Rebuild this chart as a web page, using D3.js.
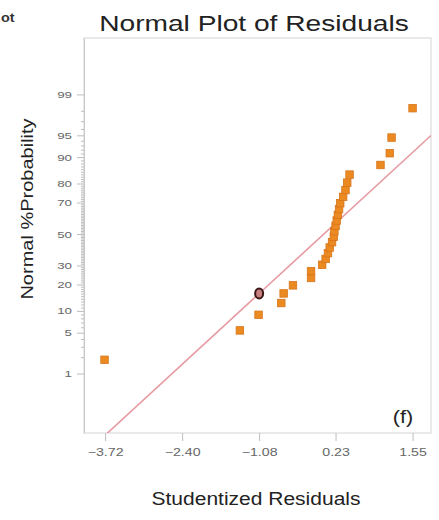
<!DOCTYPE html>
<html>
<head>
<meta charset="utf-8">
<script src="https://cdn.jsdelivr.net/npm/d3@7"></script>
<style>
  body { margin: 0; background: #fff; }
  svg { display: block; font-family: "Liberation Sans", Arial, sans-serif; }
  .axis path { stroke: #c8c8c8; }
  .axis line { stroke: #bdbdbd; }
  .axis text { fill: #666; }
</style>
</head>
<body>
<script>
// residuals, sorted, and the normal % probability each one is plotted at
const residuals = [-3.73, -1.41, -1.09, -0.70, -0.66, -0.50, -0.19, -0.19, 0.00, 0.06,
                   0.10, 0.13, 0.17, 0.20, 0.21, 0.23, 0.25, 0.27, 0.29, 0.31,
                   0.36, 0.40, 0.43, 0.47, 1.00, 1.16, 1.19, 1.55];
const probPct = [1.8, 5.4, 8.9, 12.5, 16.1, 19.6, 23.2, 26.8, 30.4, 33.9,
                 37.5, 41.1, 44.6, 48.2, 51.8, 55.4, 58.9, 62.5, 66.1, 69.6,
                 73.2, 76.8, 80.4, 83.9, 87.5, 91.1, 94.6, 98.2];
// highlighted (circled) point
const marked = [[-1.08, 16.1]];
// reference line: residual -> z = (x - lineMean) / lineSd
const lineMean = 0.03;
const lineSd = 1.118;

const xTicks = [-3.72, -2.40, -1.08, 0.23, 1.55];
const yTicks = [1, 5, 10, 20, 30, 50, 70, 80, 90, 95, 99];
const yMinor = d3.range(1, 100).filter(p => !yTicks.includes(p));

const w = 439, h = 520;
const padL = 84, padR = 431, padT = 38, padB = 433;

// inverse normal cdf (Acklam)
function probit(p) {
  const a = [-3.969683028665376e+01, 2.209460984245205e+02, -2.759285104469687e+02, 1.383577518672690e+02, -3.066479806614716e+01, 2.506628277459239e+00];
  const b = [-5.447609879822406e+01, 1.615858368580409e+02, -1.556989798598866e+02, 6.680131188771972e+01, -1.328068155288572e+01];
  const c = [-7.784894002430293e-03, -3.223964580411365e-01, -2.400758277161838e+00, -2.549732539343734e+00, 4.374664141464968e+00, 2.938163982698783e+00];
  const d = [7.784695709041462e-03, 3.224671290700398e-01, 2.445134137142996e+00, 3.754408661907416e+00];
  const pl = 0.02425;
  let q, r;
  if (p < pl) {
    q = Math.sqrt(-2 * Math.log(p));
    return (((((c[0]*q+c[1])*q+c[2])*q+c[3])*q+c[4])*q+c[5]) / ((((d[0]*q+d[1])*q+d[2])*q+d[3])*q+1);
  }
  if (p > 1 - pl) {
    q = Math.sqrt(-2 * Math.log(1 - p));
    return -(((((c[0]*q+c[1])*q+c[2])*q+c[3])*q+c[4])*q+c[5]) / ((((d[0]*q+d[1])*q+d[2])*q+d[3])*q+1);
  }
  q = p - 0.5; r = q * q;
  return (((((a[0]*r+a[1])*r+a[2])*r+a[3])*r+a[4])*r+a[5])*q / (((((b[0]*r+b[1])*r+b[2])*r+b[3])*r+b[4])*r+1);
}
const z = pct => probit(pct / 100);

// the source picture is a bit wide, so widen the text to match
function widen(sel, k) {
  sel.each(function() {
    const len = this.getComputedTextLength();
    d3.select(this).attr("textLength", len * k).attr("lengthAdjust", "spacingAndGlyphs");
  });
}

// Scales
const xScale = d3.scaleLinear().domain([-4.082, 1.866]).range([padL, padR]);
const yScale = d3.scaleLinear().domain([-3.317, 3.267]).range([padB, padT]);

const svg = d3.select("body").append("svg")
  .attr("width", w)
  .attr("height", h);

svg.append("defs").append("clipPath").attr("id", "plotclip")
  .append("rect")
  .attr("x", padL).attr("y", padT)
  .attr("width", padR - padL).attr("height", padB - padT);

// end of the neighbouring panel's title
svg.append("text")
  .attr("x", 1).attr("y", 22)
  .attr("font-size", 12).attr("font-weight", "bold")
  .attr("fill", "#333")
  .text("ot")
  .call(widen, 1.2);

svg.append("text")
  .attr("x", 254).attr("y", 31)
  .attr("text-anchor", "middle")
  .attr("font-size", 22.5)
  .attr("fill", "#222")
  .text("Normal Plot of Residuals")
  .call(widen, 1.25);

// frame
svg.append("rect")
  .attr("x", padL).attr("y", padT)
  .attr("width", padR - padL).attr("height", padB - padT)
  .attr("fill", "none")
  .attr("stroke", "#d4d4d4");

// Axis
svg.append("g").attr("class", "axis")
  .attr("transform", "translate(0," + padB + ")")
  .call(d3.axisBottom(xScale).tickValues(xTicks).tickFormat(d3.format(".2f")).tickSize(8).tickSizeOuter(0))
  .call(g => g.select(".domain").remove())
  .call(g => g.selectAll("text").attr("font-size", 10.5).attr("dy", "1.15em").call(widen, 1.35));

svg.append("g").attr("class", "axis")
  .attr("transform", "translate(" + padL + ",0)")
  .call(d3.axisLeft(yScale).tickValues(yMinor.map(z)).tickFormat("").tickSize(3).tickSizeOuter(0))
  .call(g => g.select(".domain").remove())
  .call(g => g.selectAll("line").attr("stroke", "#d0d0d0"));

svg.append("g").attr("class", "axis")
  .attr("transform", "translate(" + padL + ",0)")
  .call(d3.axisLeft(yScale).tickValues(yTicks.map(z)).tickFormat((d, i) => yTicks[i]).tickSize(7).tickSizeOuter(0))
  .call(g => g.select(".domain").attr("stroke", "#c4c4c4"))
  .call(g => g.selectAll("text").attr("font-size", 9.5).attr("x", -12).call(widen, 1.4));

svg.append("text")
  .attr("transform", "translate(33,209) rotate(-90)")
  .attr("text-anchor", "middle")
  .attr("font-size", 16)
  .attr("fill", "#222")
  .text("Normal %Probability")
  .call(widen, 1.25);

svg.append("text")
  .attr("x", 256).attr("y", 505)
  .attr("text-anchor", "middle")
  .attr("font-size", 17.5)
  .attr("fill", "#222")
  .text("Studentized Residuals")
  .call(widen, 1.2);

const plot = svg.append("g").attr("clip-path", "url(#plotclip)");

// reference line
const lineX = xScale.domain();
plot.append("line")
  .attr("x1", xScale(lineX[0])).attr("y1", yScale((lineX[0] - lineMean) / lineSd))
  .attr("x2", xScale(lineX[1])).attr("y2", yScale((lineX[1] - lineMean) / lineSd))
  .attr("stroke", "#e69aa2")
  .attr("stroke-width", 1.6);

// points
const s = 7.5;
plot.selectAll("rect.pt")
  .data(residuals.map((r, i) => [r, probPct[i]]))
  .enter()
  .append("rect")
  .attr("class", "pt")
  .attr("x", d => xScale(d[0]) - s / 2)
  .attr("y", d => yScale(z(d[1])) - s / 2)
  .attr("width", s).attr("height", s)
  .attr("fill", "#ec8a22")
  .attr("stroke", "#d7741a")
  .attr("stroke-width", 0.8);

plot.selectAll("ellipse")
  .data(marked)
  .enter()
  .append("ellipse")
  .attr("cx", d => xScale(d[0]))
  .attr("cy", d => yScale(z(d[1])))
  .attr("rx", 4).attr("ry", 5)
  .attr("fill", "#c77f7f")
  .attr("stroke", "#3a1616")
  .attr("stroke-width", 2);

svg.append("text")
  .attr("x", 403).attr("y", 423)
  .attr("text-anchor", "middle")
  .attr("font-size", 18)
  .attr("fill", "#222")
  .text("(f)")
  .call(widen, 1.2);
</script>
</body>
</html>
